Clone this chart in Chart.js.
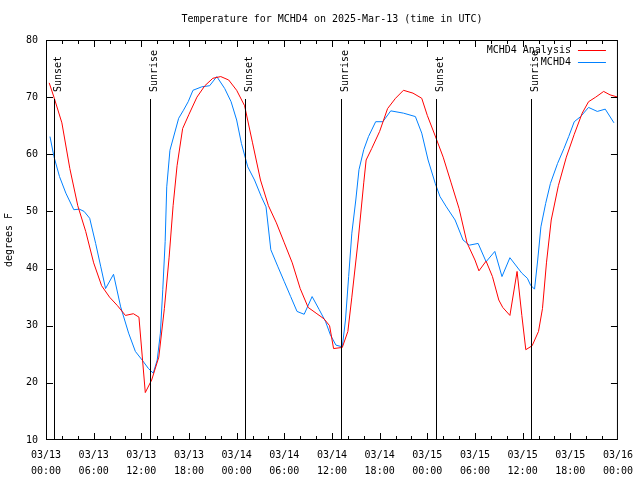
<!DOCTYPE html>
<html>
<head>
<meta charset="utf-8">
<title>Temperature for MCHD4</title>
<script src="https://cdn.jsdelivr.net/npm/chart.js@4.4.1/dist/chart.umd.min.js"></script>
<style>
  html, body { margin: 0; padding: 0; background: #fff; }
  #wrap { width: 640px; height: 480px; }
</style>
</head>
<body>
<div id="wrap"><canvas id="myChart" width="640" height="480"></canvas></div>
<script>
'use strict';

// hours since 2025-03-13 00:00 UTC
let analysisHours = [0.4, 1, 2, 3, 4, 5, 6, 7, 8, 9, 10, 11, 11.7, 12.5, 13.3, 14.2, 14.9, 15.5, 16, 16.5, 17.2, 18, 19, 20, 21, 22, 23, 24, 25, 26, 27, 28, 29, 30, 31, 32, 33, 34, 35, 35.7, 36.2, 37.3, 38, 38.5, 39.3, 40, 40.3, 41, 42, 43, 44, 45, 46.2, 47.3, 48, 49, 50, 51, 52, 53, 54, 54.5, 55.4, 56.2, 57, 57.5, 58.4, 59.3, 59.9, 60.4, 61.2, 62, 62.5, 63, 63.6, 64.5, 65.5, 66.5, 67.5, 68.3, 69.2, 70.2, 71, 72];
let analysisTemps = [72.5, 70, 65.5, 57.5, 51, 46.5, 41, 37, 35, 33.5, 31.8, 32.1, 31.5, 18.3, 20.5, 24.5, 33, 42, 51, 58, 64.5, 67, 70, 72, 73.3, 73.6, 73, 71.2, 68.5, 62, 55.5, 51, 48, 44.5, 41, 36.5, 33.2, 32.2, 31.2, 30, 26, 26.2, 29, 35, 45, 55, 59, 61, 64, 68, 69.8, 71.2, 70.7, 69.8, 66.8, 63.2, 59.5, 55, 50.5, 44.5, 41.5, 39.6, 41.3, 38.6, 34.5, 33.2, 31.8, 39.5, 31.8, 25.8, 26.5, 29, 33, 41, 48.5, 54.5, 59.5, 63.5, 67.2, 69.2, 70, 71, 70.4, 70];

let obsHours = [0.5, 1, 1.7, 2.5, 3.5, 4.2, 4.8, 5.5, 6.25, 6.9, 7.5, 8.5, 9.4, 10.4, 11.25, 12.1, 12.9, 13.5, 14, 14.4, 14.7, 15, 15.2, 15.6, 16.7, 17.3, 17.9, 18.5, 19.6, 20.6, 21.5, 22.5, 23.3, 24, 24.6, 25.4, 26.25, 27.1, 27.7, 28.3, 29.2, 30, 30.8, 31.6, 32.5, 33.5, 34.4, 35.2, 35.8, 36.5, 37.3, 37.7, 38.1, 38.5, 39, 39.4, 40, 40.6, 41.5, 42.4, 43.4, 45, 46.5, 47.3, 48.1, 49, 49.6, 50.4, 51.5, 52.5, 53.3, 54.4, 55.4, 56.5, 57.4, 58.4, 59.9, 60.6, 61, 61.5, 61.9, 62.3, 62.9, 63.5, 64.4, 65.2, 65.8, 66.5, 67.3, 68.3, 69.4, 70.4, 71.5];
let obsTemps = [63.1, 59.6, 56.1, 53.2, 50.3, 50.4, 50, 48.8, 44.4, 40.3, 36.5, 39, 33.3, 28.7, 25.5, 24, 22.5, 21.7, 24, 28.7, 36.3, 44.7, 54.3, 60.7, 66.3, 67.7, 69.2, 71.2, 71.8, 72, 73.6, 71.5, 69.2, 66, 61.9, 57.8, 55.5, 52.6, 50.8, 43.3, 40.3, 37.7, 35.1, 32.5, 32, 35.1, 32.8, 30.7, 28.4, 26.6, 26.3, 31, 38.6, 46.2, 52, 57.3, 60.8, 63.1, 65.7, 65.7, 67.6, 67.2, 66.6, 63.7, 59, 54.9, 52.6, 50.8, 48.5, 45, 44.1, 44.4, 41.2, 43, 38.6, 41.9, 39.2, 38.3, 37.1, 36.4, 41.5, 47.3, 51.4, 54.9, 58.4, 61, 63.1, 65.7, 66.6, 68.2, 67.5, 67.9, 65.5];

let eventHours = [1.05, 13.15, 25.1, 37.15, 49.05, 61.05];
let eventLabels = ['Sunset', 'Sunrise', 'Sunset', 'Sunrise', 'Sunset', 'Sunrise'];
let eventLineTop = 69.7;

let seriesNames = ['MCHD4 Analysis', 'MCHD4'];
let seriesColors = ['#ff0000', '#0080ff'];
let chartTitle = 'Temperature for MCHD4 on 2025-Mar-13 (time in UTC)';
let yLabel = 'degrees F';

let font = 'DejaVu Sans Mono';

function toPoints(xs, ys){
  let pts = [];
  for(let i = 0; i < xs.length; i++){
    pts.push({x: xs[i], y: ys[i]});
  }
  return pts;
}

function pad(n){
  return n < 10 ? '0' + n : '' + n;
}

// gnuplot-ish extras: box, inward ticks, sun lines, legend, title
const gnuplotLook = {
  id: 'gnuplotLook',
  afterDatasetsDraw(chart){
    const ctx = chart.ctx;
    const a = chart.chartArea;
    const xs = chart.scales.x;
    const ys = chart.scales.y;
    ctx.save();
    ctx.strokeStyle = '#000';
    ctx.fillStyle = '#000';
    ctx.lineWidth = 1;

    // sunrise / sunset lines
    ctx.font = '10px "' + font + '"';
    for(let i = 0; i < eventHours.length; i++){
      let x = Math.round(xs.getPixelForValue(eventHours[i])) + 0.5;
      let top = Math.round(ys.getPixelForValue(eventLineTop));
      ctx.beginPath();
      ctx.moveTo(x, top);
      ctx.lineTo(x, a.bottom);
      ctx.stroke();
      ctx.save();
      ctx.translate(x + 6, top - 7);
      ctx.rotate(-Math.PI / 2);
      ctx.textAlign = 'left';
      ctx.textBaseline = 'alphabetic';
      ctx.fillText(eventLabels[i], 0, 0);
      ctx.restore();
    }

    // frame
    ctx.strokeRect(a.left + 0.5, a.top + 0.5, a.right - a.left - 1, a.bottom - a.top - 1);

    // x ticks every 2h, longer every 6h
    ctx.beginPath();
    for(let h = 2; h < 72; h += 2){
      let x = Math.round(xs.getPixelForValue(h)) + 0.5;
      let len = h % 6 === 0 ? 7 : 4;
      ctx.moveTo(x, a.bottom);
      ctx.lineTo(x, a.bottom - len);
      ctx.moveTo(x, a.top);
      ctx.lineTo(x, a.top + len);
    }
    // y ticks
    for(let v = 20; v < 80; v += 10){
      let y = Math.round(ys.getPixelForValue(v)) + 0.5;
      ctx.moveTo(a.left, y);
      ctx.lineTo(a.left + 7, y);
      ctx.moveTo(a.right, y);
      ctx.lineTo(a.right - 7, y);
    }
    ctx.stroke();

    // legend, top right inside the plot
    ctx.textAlign = 'right';
    ctx.textBaseline = 'middle';
    for(let i = 0; i < seriesNames.length; i++){
      let y = a.top + 10.5 + i * 12;
      ctx.fillStyle = '#000';
      ctx.fillText(seriesNames[i], a.right - 47, y);
      ctx.strokeStyle = seriesColors[i];
      ctx.beginPath();
      ctx.moveTo(a.right - 40, y);
      ctx.lineTo(a.right - 12, y);
      ctx.stroke();
    }

    // title
    ctx.fillStyle = '#000';
    ctx.textAlign = 'center';
    ctx.fillText(chartTitle, (a.left + a.right) / 2 - 0, 19);
    ctx.restore();
  }
};

const ctx = document.getElementById('myChart');

new Chart(ctx, {
  type: 'line',
  data: {
    datasets: [{
      label: seriesNames[0],
      data: toPoints(analysisHours, analysisTemps),
      borderColor: seriesColors[0],
      borderWidth: 1,
      pointRadius: 0,
      tension: 0,
      fill: false
    }, {
      label: seriesNames[1],
      data: toPoints(obsHours, obsTemps),
      borderColor: seriesColors[1],
      borderWidth: 1,
      pointRadius: 0,
      tension: 0,
      fill: false
    }]
  },
  options: {
    responsive: false,
    animation: false,
    devicePixelRatio: 1,
    layout: {
      padding: {top: 40, right: 18, left: 0, bottom: 0}
    },
    plugins: {
      legend: {display: false},
      tooltip: {enabled: false}
    },
    scales: {
      x: {
        type: 'linear',
        min: 0,
        max: 72,
        grid: {display: false, drawTicks: false},
        border: {display: false},
        ticks: {
          stepSize: 6,
          autoSkip: false,
          maxRotation: 0,
          padding: 7,
          color: '#000',
          font: {family: font, size: 10, lineHeight: 1.6},
          callback: function(value){
            let day = 13 + Math.floor(value / 24);
            return ['03/' + pad(day), pad(value % 24) + ':00'];
          }
        },
        afterFit: function(scale){
          scale.height = 40;
        }
      },
      y: {
        min: 10,
        max: 80,
        grid: {display: false, drawTicks: false},
        border: {display: false},
        title: {
          display: true,
          text: yLabel,
          color: '#000',
          font: {family: font, size: 10},
          padding: {top: 3, bottom: 0}
        },
        ticks: {
          stepSize: 10,
          padding: 8,
          color: '#000',
          font: {family: font, size: 10}
        },
        afterFit: function(scale){
          scale.width = 46;
        }
      }
    }
  },
  plugins: [gnuplotLook]
});
</script>
</body>
</html>
